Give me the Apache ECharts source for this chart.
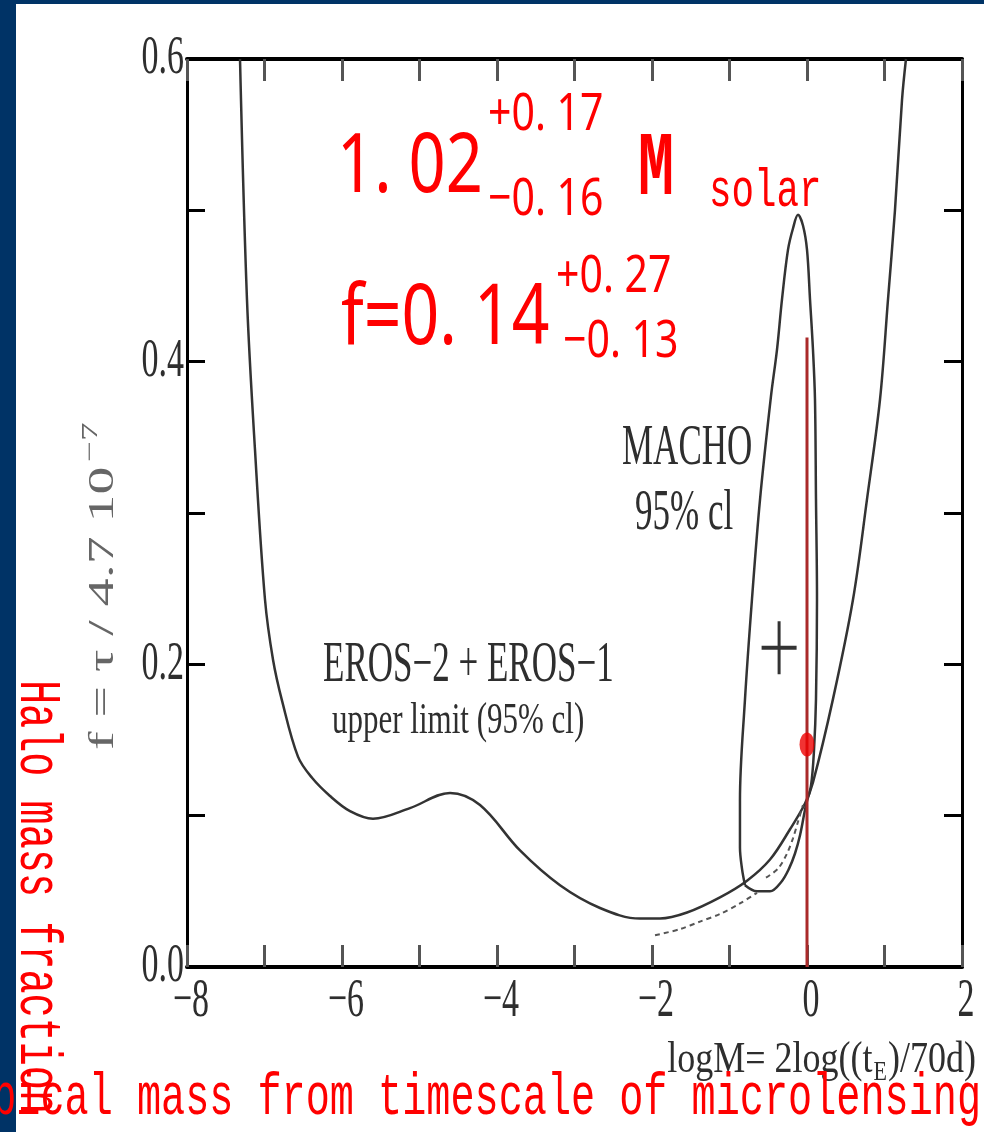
<!DOCTYPE html>
<html>
<head>
<meta charset="utf-8">
<script src="https://cdn.jsdelivr.net/npm/echarts@6.0.0/dist/echarts.min.js"></script>
<style>
  html, body { margin: 0; padding: 0; background: #fff; }
  #chart { width: 984px; height: 1132px; }
</style>
</head>
<body>
<div id="chart"></div>
<script>
// EROS-2 + EROS-1 upper limit curve (solid)
const erosLogM = [-7.316, -7.226, -7.123, -6.994, -6.890, -6.774, -6.568, -6.387, -6.155, -5.897,
  -5.600, -5.123, -4.606, -4.219, -3.703, -3.187, -2.671, -2.155, -1.897, -1.548,
  -1.123, -0.774, -0.477, -0.219, -0.026, 0.077, 0.335, 0.594, 0.774, 0.942,
  1.045, 1.135, 1.226, 1.277];
const erosF = [0.600, 0.441, 0.342, 0.243, 0.203, 0.176, 0.139, 0.125, 0.113, 0.103,
  0.098, 0.105, 0.115, 0.107, 0.077, 0.054, 0.039, 0.032, 0.032, 0.036,
  0.046, 0.057, 0.071, 0.091, 0.108, 0.122, 0.177, 0.243, 0.309, 0.375,
  0.441, 0.500, 0.573, 0.600];

// MACHO 95% cl closed contour
const machoLogM = [-0.800, -0.839, -0.865, -0.865, -0.800, -0.710, -0.606, -0.465, -0.387, -0.323,
  -0.245, -0.181, -0.116, -0.052, 0.000, 0.039, 0.077, 0.103, 0.116, 0.129,
  0.116, 0.090, 0.052, -0.013, -0.090, -0.155, -0.232, -0.335, -0.477, -0.645, -0.800];
const machoF = [0.054, 0.065, 0.079, 0.110, 0.177, 0.243, 0.309, 0.377, 0.408, 0.441,
  0.474, 0.488, 0.497, 0.490, 0.474, 0.441, 0.408, 0.375, 0.309, 0.243,
  0.177, 0.143, 0.120, 0.107, 0.087, 0.075, 0.065, 0.056, 0.050, 0.050, 0.054];

// dashed variants near the minimum
const dashLowLogM = [-1.961, -1.639, -1.381, -1.123, -0.865, -0.645];
const dashLowF = [0.021, 0.025, 0.030, 0.035, 0.042, 0.049];
const dashMidLogM = [-0.529, -0.374, -0.258, -0.181, -0.116, -0.052];
const dashMidF = [0.059, 0.065, 0.075, 0.085, 0.096, 0.107];

// best fit marker and its vertical line
const redLineLogM = [0.0, 0.0];
const redLineF = [0.0, 0.416];
const bestFit = [0.0, 0.147];
const machoCross = [-0.36, 0.211];

// tick labels
const xTickValues = [-8, -6, -4, -2, 0, 2];
const xTickLabels = ['\u22128', '\u22126', '\u22124', '\u22122', '0', '2'];
const yTickValues = [0, 0.2, 0.4, 0.6];
const yTickLabels = ['0.0', '0.2', '0.4', '0.6'];

const SERIF = '"Liberation Serif", "DejaVu Serif", serif';
const MONO = '"Liberation Mono", "DejaVu Sans Mono", monospace';
const SANS = '"Noto Sans", "DejaVu Sans", sans-serif';
const INK = '#2e2e2e';
const RED = '#ff0000';

const zip = (xs, ys) => xs.map((x, i) => [x, ys[i]]);
const measureCtx = document.createElement('canvas').getContext('2d');
function textWidth(str, size, family) {
  measureCtx.font = size + 'px ' + family;
  return measureCtx.measureText(str).width;
}

function xAxisOf(pos) {
  return {
    type: 'value', min: -8, max: 2, interval: 1, position: pos,
    axisLine: { show: true, onZero: false, lineStyle: { color: '#000', width: 4 } },
    axisTick: { show: true, inside: true, length: 22, lineStyle: { color: '#555', width: 3 } },
    axisLabel: { show: false },
    splitLine: { show: false }
  };
}
function yAxisOf(pos) {
  return {
    type: 'value', min: 0, max: 0.6, interval: 0.1, position: pos,
    axisLine: { show: true, onZero: false, lineStyle: { color: '#000', width: 3 } },
    axisTick: { show: true, inside: true, length: 18, lineStyle: { color: '#000', width: 3 } },
    axisLabel: { show: false },
    splitLine: { show: false }
  };
}

function redText(text, x, y, size, sy, family, weight) {
  return {
    type: 'text', x: x, y: y, scaleY: sy, z: 20,
    style: { text: text, fontFamily: family, fontSize: size, fontWeight: weight || 'normal',
      fill: RED, align: 'left', verticalAlign: 'middle' }
  };
}
function serifText(text, x, y, size, sy) {
  return {
    type: 'text', x: x, y: y, scaleY: sy, z: 15,
    style: { text: text, fontFamily: SERIF, fontSize: size, fill: INK,
      align: 'left', verticalAlign: 'middle' }
  };
}

const chart = echarts.init(document.getElementById('chart'));

const option = {
  animation: false,
  backgroundColor: '#fff',
  grid: { left: 187, top: 59, width: 775, height: 908, containLabel: false },
  xAxis: [xAxisOf('bottom'), xAxisOf('top')],
  yAxis: [yAxisOf('left'), yAxisOf('right')],
  series: [
    {
      name: 'EROS', type: 'line', data: zip(erosLogM, erosF), smooth: 0.35,
      symbol: 'none', lineStyle: { color: '#333', width: 2.5 }, z: 2, silent: true
    },
    {
      name: 'MACHO', type: 'line', data: zip(machoLogM, machoF), smooth: 0.35,
      symbol: 'none', lineStyle: { color: '#333', width: 2.5 }, z: 2, silent: true
    },
    {
      name: 'dash low', type: 'line', data: zip(dashLowLogM, dashLowF), smooth: 0.3,
      symbol: 'none', lineStyle: { color: '#555', width: 2, type: [5, 4] }, z: 2, silent: true
    },
    {
      name: 'dash mid', type: 'line', data: zip(dashMidLogM, dashMidF), smooth: 0.3,
      symbol: 'none', lineStyle: { color: '#555', width: 2, type: [5, 4] }, z: 2, silent: true
    },
    {
      name: 'best line', type: 'line', data: zip(redLineLogM, redLineF),
      symbol: 'none', lineStyle: { color: '#aa2a2a', width: 3 }, z: 4, silent: true
    },
    {
      name: 'MACHO best', type: 'scatter', data: [machoCross],
      symbol: 'path://M0,24.5H35V28.5H0Z M16,0H19V53H16Z', symbolSize: [35, 53],
      itemStyle: { color: '#000' }, z: 5, silent: true
    },
    {
      name: 'best fit', type: 'scatter', data: [bestFit],
      symbol: 'circle', symbolSize: [15, 24],
      itemStyle: { color: '#ee0000' }, z: 6, silent: true
    }
  ]
};
chart.setOption(option);

// graphics: frame, annotations, tick labels positioned through the axes
const graphics = [
  { type: 'rect', shape: { x: 0, y: 0, width: 16, height: 1132 }, style: { fill: '#003366' }, z: 1 },
  { type: 'rect', shape: { x: 0, y: 0, width: 984, height: 4 }, style: { fill: '#003366' }, z: 1 },

  redText('1. 02', 337, 168, 65, 1.27, SANS),
  redText('+0. 17', 488, 115, 41, 1.26, SANS),
  redText('\u22120. 16', 488, 200, 41, 1.26, SANS),
  redText('M', 638, 171, 60, 1.5, MONO, 'bold'),
  redText('solar', 709, 192, 37.5, 1.41, MONO),
  redText('f=0. 14', 341, 320, 66, 1.26, SANS),
  redText('+0. 27', 556, 277, 41, 1.26, SANS),
  redText('\u22120. 13', 563, 342, 41, 1.26, SANS),

  serifText('MACHO', 622, 449, 35, 1.6),
  serifText('95% cl', 635, 514, 35, 1.6),
  serifText('EROS\u22122 + EROS\u22121', 323, 666, 35, 1.6),
  serifText('upper limit (95% cl)', 332, 721, 31, 1.45),

  {
    type: 'text', x: 981, y: 1099, scaleY: 1.45, z: 30,
    style: { text: 'typical mass from timescale of microlensing', fontFamily: MONO, fontSize: 40.2,
      fill: RED, align: 'right', verticalAlign: 'middle' }
  },
  {
    type: 'text', x: 36, y: 680, rotation: -Math.PI / 2, scaleY: 1.45, z: 30,
    style: { text: 'Halo mass fraction', fontFamily: MONO, fontSize: 40.2,
      fill: RED, align: 'left', verticalAlign: 'middle' }
  }
];

// y axis name, rotated, stretched along reading direction
const yNameMain = 'f = \u03c4 / 4.7 10';
const yNameW = textWidth(yNameMain, 36, SERIF);
graphics.push({
  type: 'group', x: 104, y: 750, rotation: Math.PI / 2, scaleX: 1.55, z: 15,
  children: [
    { type: 'text', x: 0, y: 0, style: { text: yNameMain, fontFamily: SERIF, fontSize: 36,
      fill: '#666', align: 'left', verticalAlign: 'middle' } },
    { type: 'text', x: yNameW + 3, y: -13, style: { text: '\u22127', fontFamily: SERIF, fontSize: 24,
      fill: '#666', align: 'left', verticalAlign: 'middle' } }
  ]
});

// x axis name with subscript
const xn1 = 'logM= 2log((t', xnSub = 'E', xn2 = ')/70d)';
const w1 = textWidth(xn1, 36, SERIF), wSub = textWidth(xnSub, 22, SERIF), w2 = textWidth(xn2, 36, SERIF);
const xnStart = 976 - (w1 + wSub + 2 + w2);
graphics.push(
  { type: 'text', x: xnStart, y: 1060, scaleY: 1.25, z: 15,
    style: { text: xn1, fontFamily: SERIF, fontSize: 36, fill: INK, align: 'left', verticalAlign: 'middle' } },
  { type: 'text', x: xnStart + w1 + 1, y: 1073, scaleY: 1.25, z: 15,
    style: { text: xnSub, fontFamily: SERIF, fontSize: 22, fill: INK, align: 'left', verticalAlign: 'middle' } },
  { type: 'text', x: xnStart + w1 + wSub + 2, y: 1060, scaleY: 1.25, z: 15,
    style: { text: xn2, fontFamily: SERIF, fontSize: 36, fill: INK, align: 'left', verticalAlign: 'middle' } }
);

// tick labels placed with the axes' own scales
xTickValues.forEach((v, i) => {
  const p = chart.convertToPixel({ gridIndex: 0 }, [v, 0]);
  graphics.push({
    type: 'text', x: p[0] + 4, y: p[1] + 35, scaleY: 1.6, z: 15,
    style: { text: xTickLabels[i], fontFamily: SERIF, fontSize: 34, fill: INK,
      align: 'center', verticalAlign: 'middle' }
  });
});
yTickValues.forEach((v, i) => {
  const p = chart.convertToPixel({ gridIndex: 0 }, [-8, v]);
  graphics.push({
    type: 'text', x: p[0] - 3, y: p[1], scaleY: 1.6, z: 15,
    style: { text: yTickLabels[i], fontFamily: SERIF, fontSize: 34, fill: INK,
      align: 'right', verticalAlign: 'middle' }
  });
});

chart.setOption({ graphic: graphics });
</script>
</body>
</html>
